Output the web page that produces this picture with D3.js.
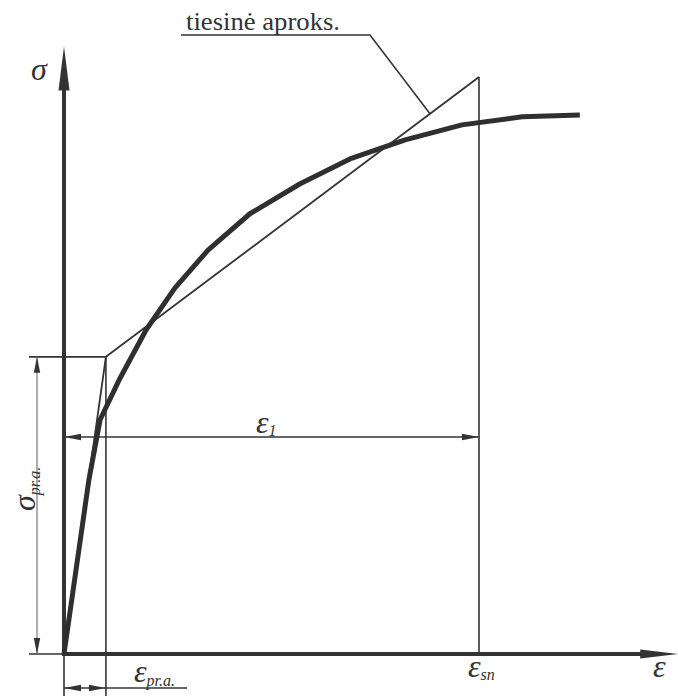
<!DOCTYPE html>
<html>
<head>
<meta charset="utf-8">
<script src="https://cdn.jsdelivr.net/npm/d3@7"></script>
<style>
  html, body { margin: 0; padding: 0; background: #fff; }
  svg { display: block; }
</style>
</head>
<body>
<div id="chart"></div>
<script>
// Stress–strain curve (ε, σ) in relative units
const curveEps   = [0, 6.0, 8.7, 13.5, 19.8, 26.7, 34.7, 44.8, 56.9, 68.9, 82.2, 95.9, 110.4, 124.3];
const curveSigma = [0, 30.2, 40.6, 47.8, 56.2, 63.4, 70.0, 76.3, 81.5, 85.8, 89.1, 91.7, 93.1, 93.4];

// Bilinear (tiesinė) approximation: origin -> proportional limit -> εsn
const approxEps   = [0, 10.1, 100];
const approxSigma = [0, 51.5, 100];

// Axis extents
const epsMax = 148;
const sigmaMax = 105.3;

const W = 678, H = 696;
const ink = "#333";
const serif = "'Liberation Serif', 'Times New Roman', Times, 'DejaVu Serif', serif";

const svg = d3.select("#chart").append("svg")
  .attr("width", W).attr("height", H);

const x = d3.scaleLinear().domain([0, 100]).range([64, 479]);
const y = d3.scaleLinear().domain([0, 100]).range([654, 77]);

const X0 = x(0), Y0 = y(0);
const epsPr = approxEps[1], sigPr = approxSigma[1];
const epsSn = approxEps[2], sigSn = approxSigma[2];

function line(x1, y1, x2, y2, w, c) {
  svg.append("line")
    .attr("x1", x1).attr("y1", y1).attr("x2", x2).attr("y2", y2)
    .attr("stroke", c || ink).attr("stroke-width", w);
}
// filled arrowhead with tip at (tx,ty) pointing along (dx,dy)
function arrow(tx, ty, dx, dy, len, hw, c) {
  const px = -dy, py = dx;
  const bx = tx - dx * len, by = ty - dy * len;
  svg.append("path")
    .attr("d", `M${tx},${ty}L${bx + px * hw},${by + py * hw}L${bx - px * hw},${by - py * hw}Z`)
    .attr("fill", c || ink);
}

// Extension lines
line(x(epsPr), y(sigPr), x(epsPr), 696, 1.6);          // εpr.a. vertical
line(x(epsSn), y(sigSn), x(epsSn), Y0, 1.6);           // εsn vertical
line(X0, Y0, X0, 696, 1.6);                           // origin extension down
line(29, y(sigPr), x(epsPr), y(sigPr), 1.6);          // σpr.a. horizontal
line(29, Y0, X0, Y0, 1.6);                            // zero level extension left

// σpr.a. dimension
const dimX = 37;
line(dimX, y(sigPr), dimX, Y0, 1.2, "#777");
arrow(dimX, y(sigPr), 0, -1, 16, 3.2);
arrow(dimX, Y0, 0, 1, 16, 3.2);

// ε1 dimension (0 .. εsn)
const dimY1 = 437;
line(X0, dimY1, x(epsSn), dimY1, 1.6);
arrow(X0, dimY1, -1, 0, 17, 3.2);
arrow(x(epsSn), dimY1, 1, 0, 17, 3.2);

// εpr.a. dimension (0 .. εpr.a.) with label shelf
const dimY2 = 688;
line(X0, dimY2, 187, dimY2, 1.6);
arrow(X0, dimY2, -1, 0, 17, 3.2);
arrow(x(epsPr), dimY2, 1, 0, 17, 3.2);

// Linear approximation
svg.append("path")
  .datum(d3.zip(approxEps, approxSigma))
  .attr("d", d3.line().x(d => x(d[0])).y(d => y(d[1])))
  .attr("fill", "none").attr("stroke", ink).attr("stroke-width", 1.8)
  .attr("stroke-linejoin", "miter");

// Leader for the approximation label
const leadX = 430;
const leadY = y(sigPr + (sigSn - sigPr) * (x.invert(leadX) - epsPr) / (epsSn - epsPr));
svg.append("path")
  .attr("d", `M181,35L370,35L${leadX},${leadY}`)
  .attr("fill", "none").attr("stroke", ink).attr("stroke-width", 1.6);
svg.append("text").attr("x", 186).attr("y", 30)
  .attr("font-family", serif).attr("fill", ink)
  .attr("font-size", 26).attr("textLength", 154).attr("lengthAdjust", "spacingAndGlyphs")
  .text("tiesinė aproks.");

// Axes
line(X0, Y0, X0, y(sigmaMax) + 30, 4);
arrow(X0, y(sigmaMax), 0, -1, 44, 5.5);
line(X0 - 2, Y0, x(epsMax) - 30, Y0, 4);
arrow(x(epsMax), Y0, 1, 0, 38, 4.5);

// Stress–strain curve
svg.append("path")
  .datum(d3.zip(curveEps, curveSigma))
  .attr("d", d3.line().x(d => x(d[0])).y(d => y(d[1])).curve(d3.curveLinear))
  .attr("fill", "none").attr("stroke", "#2f2f31").attr("stroke-width", 5)
  .attr("stroke-linejoin", "round").attr("stroke-linecap", "butt");

// Labels
function symLabel(tx, ty, sym, sub, size, subSize, subDy, rot) {
  const t = svg.append("text")
    .attr("transform", `translate(${tx},${ty})` + (rot ? ` rotate(${rot})` : ""))
    .attr("font-family", serif).attr("fill", ink)
    .attr("font-style", "italic").attr("font-size", size);
  t.append("tspan").text(sym);
  if (sub) t.append("tspan").attr("font-size", subSize).attr("dy", subDy).text(sub);
}
symLabel(31, 80, "σ", null, 32);
symLabel(653, 677, "ε", null, 32);
symLabel(468, 677, "ε", "sn", 32, 16, 3);
symLabel(256, 433, "ε", "1", 32, 16, 3);
symLabel(134, 682, "ε", "pr.a.", 32, 16, 4);
symLabel(35, 511, "σ", "pr.a.", 32, 16, 5, -90);
</script>
</body>
</html>
